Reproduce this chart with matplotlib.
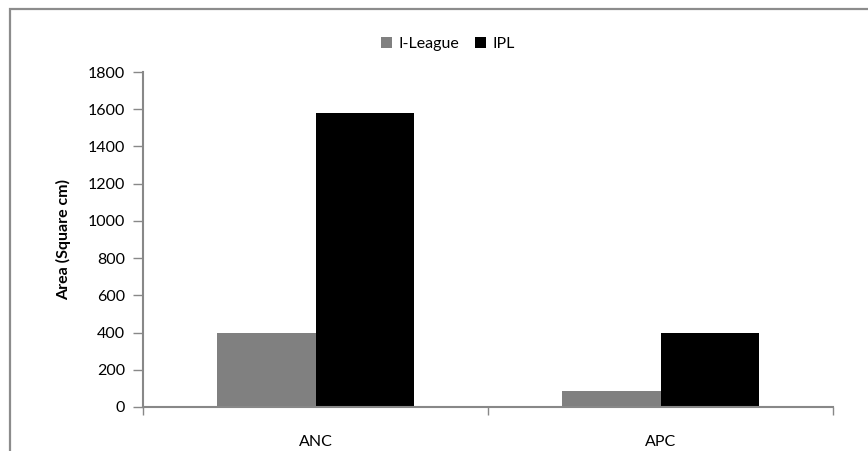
import numpy as np
import matplotlib.pyplot as plt
from matplotlib.patches import Rectangle

categories = ['ANC', 'APC']
series = ['I-League', 'IPL']
ileague = [400, 88]
ipl = [1580, 398]
yticks = [0, 200, 400, 600, 800, 1000, 1200, 1400, 1600, 1800]

plt.rcParams['font.family'] = ['Lato', 'DejaVu Sans']
axis_grey = '#888888'

fig = plt.figure(figsize=(8.68, 4.51), dpi=100)
W, H = 868, 451

# outer chart-area border, cut off at right/bottom like the screenshot
fig.patches.append(Rectangle((10 / W, -0.1), 1.1, 1 - 9 / H + 0.1,
                             transform=fig.transFigure, fill=False,
                             edgecolor='#8c8c8c', linewidth=1.6))

ax = fig.add_axes([143 / W, 1 - 407 / H, (833 - 143) / W, (407 - 72) / H])

x = np.arange(len(categories))
w = 0.286
ax.bar(x - w / 2, ileague, w, color='#808080', label=series[0])
ax.bar(x + w / 2, ipl, w, color='#000000', label=series[1])

ax.set_xlim(-0.5, len(categories) - 0.5)
ax.set_ylim(0, 1800)
ax.set_yticks(yticks)
ax.tick_params(axis='y', length=7, width=1, color=axis_grey,
               labelsize=11.5, pad=6)

ax.set_xticks(np.arange(-0.5, len(categories), 1.0))
ax.set_xticklabels([])
ax.tick_params(axis='x', which='major', length=6, width=1, color=axis_grey)
ax.set_xticks(x, minor=True)
ax.set_xticklabels(categories, minor=True)
ax.tick_params(axis='x', which='minor', length=0, labelsize=11.5, pad=20)

for s in ['top', 'right']:
    ax.spines[s].set_visible(False)
for s in ['left', 'bottom']:
    ax.spines[s].set_color(axis_grey)
    ax.spines[s].set_linewidth(1.5)

ax.set_ylabel('Area (Square cm)', fontsize=11.5, fontweight='bold', labelpad=12)

ax.legend(loc='center', bbox_to_anchor=(448 / W, 1 - 44 / H),
          bbox_transform=fig.transFigure, ncol=2, frameon=False,
          fontsize=11.5, handlelength=0.7, handleheight=0.7,
          handletextpad=0.4, columnspacing=1.0)

fig.savefig('out.png', dpi=100)
